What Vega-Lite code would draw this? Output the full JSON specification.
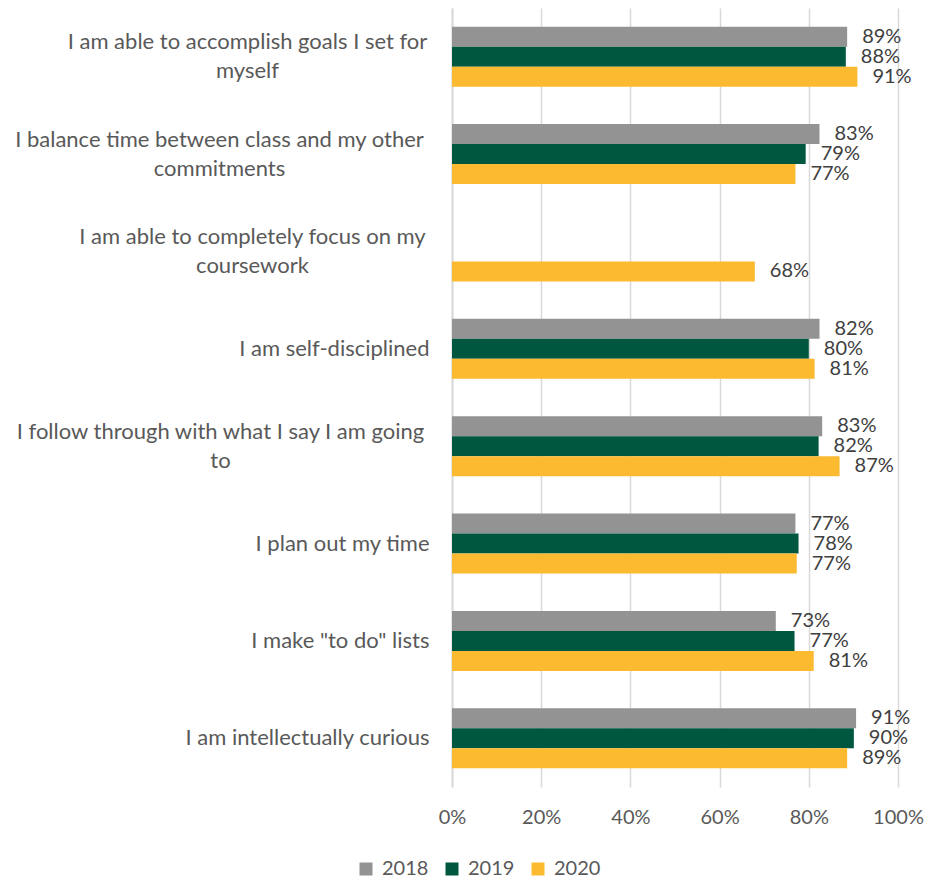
{
  "$schema": "https://vega.github.io/schema/vega-lite/v6.json",
  "width": 446,
  "height": 779,
  "autosize": {"type": "none"},
  "padding": {"left": 452, "top": 8, "right": 29, "bottom": 95},
  "background": "white",
  "config": {
    "font": "Lato",
    "view": {"stroke": null}
  },
  "data": {
    "values": [
      {"statement": "I am able to accomplish goals I set for myself", "year": "2018", "value": 0.886, "label": "89%"},
      {"statement": "I am able to accomplish goals I set for myself", "year": "2019", "value": 0.883, "label": "88%"},
      {"statement": "I am able to accomplish goals I set for myself", "year": "2020", "value": 0.909, "label": "91%"},
      {"statement": "I balance time between class and my other commitments", "year": "2018", "value": 0.824, "label": "83%"},
      {"statement": "I balance time between class and my other commitments", "year": "2019", "value": 0.793, "label": "79%"},
      {"statement": "I balance time between class and my other commitments", "year": "2020", "value": 0.770, "label": "77%"},
      {"statement": "I am able to completely focus on my coursework", "year": "2020", "value": 0.679, "label": "68%"},
      {"statement": "I am self-disciplined", "year": "2018", "value": 0.824, "label": "82%"},
      {"statement": "I am self-disciplined", "year": "2019", "value": 0.800, "label": "80%"},
      {"statement": "I am self-disciplined", "year": "2020", "value": 0.813, "label": "81%"},
      {"statement": "I follow through with what I say I am going to", "year": "2018", "value": 0.830, "label": "83%"},
      {"statement": "I follow through with what I say I am going to", "year": "2019", "value": 0.822, "label": "82%"},
      {"statement": "I follow through with what I say I am going to", "year": "2020", "value": 0.869, "label": "87%"},
      {"statement": "I plan out my time", "year": "2018", "value": 0.770, "label": "77%"},
      {"statement": "I plan out my time", "year": "2019", "value": 0.777, "label": "78%"},
      {"statement": "I plan out my time", "year": "2020", "value": 0.773, "label": "77%"},
      {"statement": "I make \"to do\" lists", "year": "2018", "value": 0.726, "label": "73%"},
      {"statement": "I make \"to do\" lists", "year": "2019", "value": 0.768, "label": "77%"},
      {"statement": "I make \"to do\" lists", "year": "2020", "value": 0.811, "label": "81%"},
      {"statement": "I am intellectually curious", "year": "2018", "value": 0.906, "label": "91%"},
      {"statement": "I am intellectually curious", "year": "2019", "value": 0.901, "label": "90%"},
      {"statement": "I am intellectually curious", "year": "2020", "value": 0.886, "label": "89%"}
    ]
  },
  "encoding": {
    "y": {
      "field": "statement",
      "type": "nominal",
      "sort": null,
      "scale": {"paddingInner": 0.384, "paddingOuter": 0.192},
      "axis": {
        "title": null,
        "ticks": false,
        "domain": true,
        "domainColor": "#d9d9d9",
        "domainWidth": 2,
        "labelFontSize": 22,
        "labelColor": "#595959",
        "labelLimit": 460,
        "labelLineHeight": 29,
        "labelAlign": {"condition": {"test": "length(datum.value) > 43", "value": "center"}, "value": "right"},
        "labelPadding": {
          "condition": [
            {"test": "indexof(datum.value, 'accomplish') >= 0", "value": 205},
            {"test": "indexof(datum.value, 'balance') >= 0", "value": 233},
            {"test": "indexof(datum.value, 'completely') >= 0", "value": 200},
            {"test": "indexof(datum.value, 'follow') >= 0", "value": 232}
          ],
          "value": 23
        },
        "labelOffset": {"condition": {"test": "length(datum.value) > 43", "value": -14.5}, "value": 0},
        "labelExpr": "length(datum.label) > 43 ? [substring(datum.label, 0, lastindexof(substring(datum.label, 0, 44), ' ')), substring(datum.label, lastindexof(substring(datum.label, 0, 44), ' ') + 1)] : datum.label"
      }
    },
    "yOffset": {"field": "year", "type": "nominal", "scale": {"paddingInner": 0, "paddingOuter": 0}},
    "x": {
      "field": "value",
      "type": "quantitative",
      "scale": {"domain": [0, 1]},
      "axis": {
        "title": null,
        "format": ".0%",
        "values": [0, 0.2, 0.4, 0.6, 0.8, 1],
        "grid": true,
        "gridColor": "#d9d9d9",
        "gridWidth": 1.5,
        "domain": false,
        "ticks": false,
        "labelFlush": false,
        "labelFontSize": 20,
        "labelColor": "#595959",
        "labelPadding": 20
      }
    }
  },
  "layer": [
    {
      "mark": {"type": "bar"},
      "encoding": {
        "color": {
          "field": "year",
          "type": "nominal",
          "scale": {"domain": ["2018", "2019", "2020"], "range": ["#939393", "#00573f", "#fbba2f"]},
          "legend": {
            "title": null,
            "orient": "none",
            "direction": "horizontal",
            "legendX": -96,
            "legendY": 851,
            "symbolType": "square",
            "symbolSize": 169,
            "symbolStrokeWidth": 0,
            "labelFontSize": 20,
            "labelColor": "#595959",
            "labelOffset": 6,
            "columnPadding": 13
          }
        }
      }
    },
    {
      "mark": {"type": "text", "align": "left", "baseline": "middle", "dx": 15, "fontSize": 20, "color": "#404040"},
      "encoding": {
        "text": {"field": "label"}
      }
    }
  ]
}
